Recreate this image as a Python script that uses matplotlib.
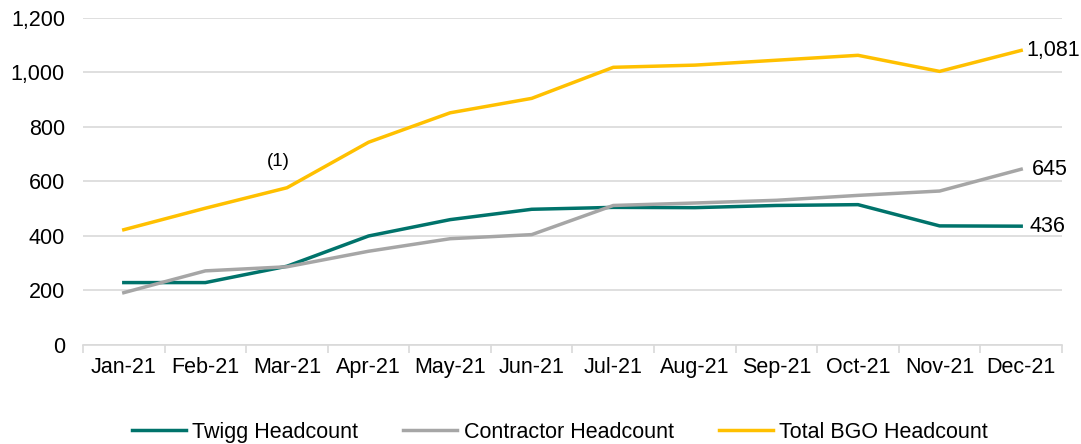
import numpy as np
import matplotlib
matplotlib.use("Agg")
import matplotlib.pyplot as plt
from matplotlib.ticker import FuncFormatter

months = ["Jan-21", "Feb-21", "Mar-21", "Apr-21", "May-21", "Jun-21",
          "Jul-21", "Aug-21", "Sep-21", "Oct-21", "Nov-21", "Dec-21"]
twigg = [229, 229, 289, 400, 460, 498, 505, 504, 512, 515, 437, 436]
contractor = [192, 272, 287, 344, 390, 405, 512, 521, 531, 549, 565, 645]
total = [423, 502, 577, 744, 852, 905, 1019, 1027, 1045, 1063, 1004, 1081]

plt.rcParams['font.family'] = ['Liberation Sans', 'DejaVu Sans']
fs = 15.5

fig = plt.figure(figsize=(10.81, 4.44), dpi=100)
ax = fig.add_axes([0.0768, 0.223, 0.9056, 0.7365])

x = np.arange(len(months))
ax.plot(x, twigg, color="#00736B", lw=2.5, label="Twigg Headcount")
ax.plot(x, contractor, color="#A6A6A6", lw=2.5, label="Contractor Headcount")
ax.plot(x, total, color="#FFC000", lw=2.5, label="Total BGO Headcount")

ax.set_xlim(-0.5, len(months) - 0.5)
ax.set_ylim(0, 1200)
ax.set_yticks(np.arange(0, 1201, 200))
ax.yaxis.set_major_formatter(FuncFormatter(lambda v, p: f"{int(v):,}"))
ax.grid(axis="y", color="#D9D9D9", lw=1.2)
ax.set_axisbelow(True)

ax.set_xticks(x)
ax.set_xticklabels(months)
ax.set_xticks(np.arange(-0.5, len(months), 1), minor=True)
ax.tick_params(axis="x", which="major", length=0, pad=9, labelsize=fs)
ax.tick_params(axis="x", which="minor", length=6, color="#D9D9D9", width=1.2)
ax.tick_params(axis="y", length=0, pad=13, labelsize=fs)

for s in ["top", "right", "left"]:
    ax.spines[s].set_visible(False)
ax.spines["bottom"].set_color("#D9D9D9")
ax.spines["bottom"].set_linewidth(1.2)

ax.annotate(f"{total[-1]:,}", (x[-1], total[-1]), xytext=(4, 0), textcoords="offset points",
            va="center", ha="left", fontsize=fs)
ax.annotate(f"{contractor[-1]:,}", (x[-1], contractor[-1]), xytext=(8, 0), textcoords="offset points",
            va="center", ha="left", fontsize=fs)
ax.annotate(f"{twigg[-1]:,}", (x[-1], twigg[-1]), xytext=(6, 0), textcoords="offset points",
            va="center", ha="left", fontsize=fs)
ax.annotate("(1)", (x[2], total[2]), xytext=(-6, 13), textcoords="offset points",
            ha="center", va="bottom", fontsize=13.5)

fig.legend(loc="center", bbox_to_anchor=(0.518, 0.026), ncol=3, frameon=False,
           fontsize=fs, handlelength=2.5, handletextpad=0.3, columnspacing=2.1)

fig.savefig("out.png", dpi=100)
